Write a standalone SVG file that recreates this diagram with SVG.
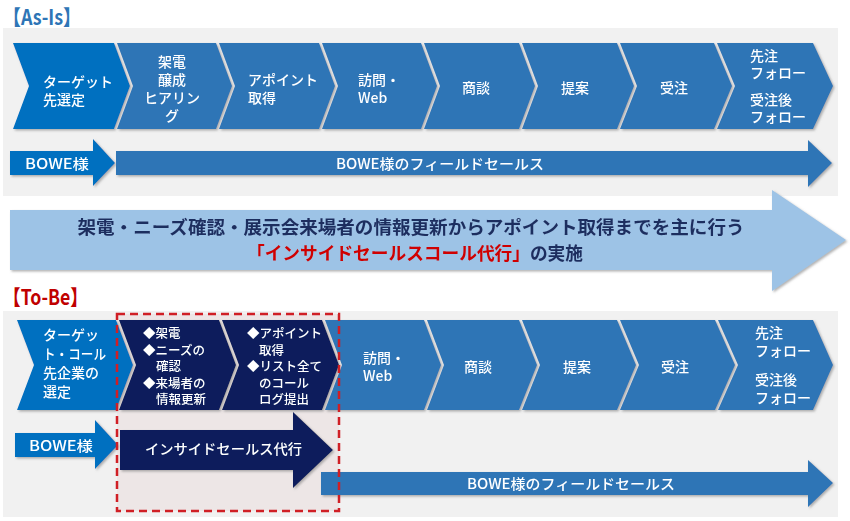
<svg xmlns="http://www.w3.org/2000/svg" width="850" height="521" viewBox="0 0 850 521">
<defs>
<filter id="sh" x="-5%" y="-5%" width="115%" height="120%">
<feDropShadow dx="1.5" dy="1.5" stdDeviation="1.2" flood-color="#7f7f7f" flood-opacity="0.6"/>
</filter>
<style>
.t{font-family:"Noto Sans CJK JP","Noto Sans",sans-serif;fill:#fff;font-size:14px;font-weight:500}
.s{font-size:12.5px}
.m{text-anchor:middle}
.blue{fill:#2E75B6}
.bright{fill:#0070C0}
.navy{fill:#0B1F5C}
.panel{fill:#F1F1F1}
.ttl{font-family:"Noto Sans CJK JP","Noto Sans",sans-serif;font-size:21px;font-weight:700}
.big{font-family:"Noto Sans CJK JP","Noto Sans",sans-serif;font-size:18px;font-weight:700;fill:#1F2D5E}
</style>
</defs>
<rect width="850" height="521" fill="#fff"/>

<text class="ttl" x="3" y="25" fill="#2E75B6" textLength="78" lengthAdjust="spacingAndGlyphs">【As-Is】</text>
<rect class="panel" x="3" y="28" width="835" height="168"/>

<g id="asis-chevrons" filter="url(#sh)">
<g id="a1"><polygon class="bright" points="13,43 114,43 130,86 114,129 13,129 29,86"/>
<text class="t" x="43" y="87">ターゲット</text><text class="t" x="43" y="105">先選定</text></g>
<g id="a2"><polygon class="blue" points="117,43 216,43 232,86 216,129 117,129 133,86"/>
<text class="t m" x="172" y="67">架電</text><text class="t m" x="172" y="85">醸成</text><text class="t m" x="172" y="103">ヒアリン</text><text class="t m" x="172" y="121">グ</text></g>
<g id="a3"><polygon class="blue" points="219,43 319,43 335,86 319,129 219,129 235,86"/>
<text class="t" x="248" y="85">アポイント</text><text class="t" x="248" y="103">取得</text></g>
<g id="a4"><polygon class="blue" points="322,43 421,43 437,86 421,129 322,129 338,86"/>
<text class="t" x="358" y="85">訪問・</text><text class="t" x="358" y="103" font-size="15">Web</text></g>
<g id="a5"><polygon class="blue" points="424,43 519,43 535,86 519,129 424,129 440,86"/>
<text class="t m" x="476" y="93">商談</text></g>
<g id="a6"><polygon class="blue" points="522,43 617,43 634,86 617,129 522,129 538,86"/>
<text class="t m" x="575" y="93">提案</text></g>
<g id="a7"><polygon class="blue" points="620,43 714,43 732,86 714,129 620,129 637,86"/>
<text class="t m" x="674" y="93">受注</text></g>
<g id="a8"><polygon class="blue" points="717,43 813,43 833,86 813,129 717,129 735,86"/>
<text class="t" x="750" y="61">先注</text><text class="t" x="750" y="78">フォロー</text><text class="t" x="750" y="105">受注後</text><text class="t" x="750" y="122">フォロー</text></g>
</g>

<g id="connectors" filter="url(#sh)">
<g id="asis-bowe"><polygon class="bright" points="10,151 93,151 93,139 115,163 93,186 93,175 10,175"/>
<text class="t" x="25" y="169" textLength="64" lengthAdjust="spacingAndGlyphs">BOWE様</text></g>
<g id="asis-field"><polygon class="blue" points="116,151 808,151 808,140 832,163 808,187 808,175 116,175"/>
<text class="t" x="336" y="169" textLength="208" lengthAdjust="spacingAndGlyphs">BOWE様のフィールドセールス</text></g>

<g id="main-arrow"><polygon fill="#9DC3E6" points="10,210 772,210 772,190 846,240 772,291 772,270 10,270"/>
<text class="big" x="411" y="234" text-anchor="middle" textLength="667" lengthAdjust="spacingAndGlyphs">架電・ニーズ確認・展示会来場者の情報更新からアポイント取得までを主に行う</text>
<text class="big" x="415" y="260" text-anchor="middle" textLength="336" lengthAdjust="spacingAndGlyphs"><tspan fill="#D00000">「インサイドセールスコール代行」</tspan>の実施</text></g>
</g>

<text class="ttl" x="3" y="305" fill="#C00000" textLength="85" lengthAdjust="spacingAndGlyphs">【To-Be】</text>
<rect class="panel" x="3" y="311" width="835" height="206"/>
<rect id="focus-fill" x="117" y="314" width="222" height="197" fill="#EDE6E6"/>

<g id="tobe-chevrons" filter="url(#sh)">
<g id="b1"><polygon class="bright" points="17,320 116,320 133,365 116,410 17,410 34,365"/>
<text class="t" x="43" y="340">ターゲッ</text><text class="t" x="43" y="359" textLength="63" lengthAdjust="spacingAndGlyphs">ト・コール</text><text class="t" x="43" y="378">先企業の</text><text class="t" x="43" y="397">選定</text></g>
<g id="b2"><polygon class="navy" points="119,320 219,320 236,365 219,410 119,410 136,365"/>
<text class="t s" x="143" y="338">◆架電</text><text class="t s" x="143" y="355">◆ニーズの</text><text class="t s" x="156" y="371">確認</text><text class="t s" x="143" y="388">◆来場者の</text><text class="t s" x="156" y="404">情報更新</text></g>
<g id="b3"><polygon class="navy" points="222,320 322,320 339,365 322,410 222,410 239,365"/>
<text class="t s" x="247" y="338">◆アポイント</text><text class="t s" x="259" y="355">取得</text><text class="t s" x="247" y="371">◆リスト全て</text><text class="t s" x="259" y="388">のコール</text><text class="t s" x="259" y="404">ログ提出</text></g>
<g id="b4"><polygon class="blue" points="325,320 424,320 441,365 424,410 325,410 342,365"/>
<text class="t" x="363" y="363">訪問・</text><text class="t" x="363" y="381" font-size="15">Web</text></g>
<g id="b5"><polygon class="blue" points="427,320 519,320 537,365 519,410 427,410 444,365"/>
<text class="t m" x="478" y="372">商談</text></g>
<g id="b6"><polygon class="blue" points="522,320 617,320 636,365 617,410 522,410 540,365"/>
<text class="t m" x="577" y="372">提案</text></g>
<g id="b7"><polygon class="blue" points="620,320 715,320 735,365 715,410 620,410 639,365"/>
<text class="t m" x="675" y="372">受注</text></g>
<g id="b8"><polygon class="blue" points="718,320 813,320 833,365 813,410 718,410 738,365"/>
<text class="t" x="755" y="338">先注</text><text class="t" x="755" y="356">フォロー</text><text class="t" x="755" y="385">受注後</text><text class="t" x="755" y="403">フォロー</text></g>
</g>

<g id="tobe-arrows" filter="url(#sh)">
<g id="tobe-bowe"><polygon class="bright" points="15,433 95,433 95,420 118,445 95,469 95,457 15,457"/>
<text class="t" x="29" y="451" textLength="64" lengthAdjust="spacingAndGlyphs">BOWE様</text></g>
<g id="tobe-inside"><polygon class="navy" points="120,430 293,430 293,412 333,450 293,488 293,470 120,470"/>
<text class="t" x="145" y="454" textLength="157" lengthAdjust="spacingAndGlyphs">インサイドセールス代行</text></g>
<g id="tobe-field"><polygon class="blue" points="321,472 808,472 808,460 833,483 808,507 808,495 321,495"/>
<text class="t" x="467" y="489" textLength="208" lengthAdjust="spacingAndGlyphs">BOWE様のフィールドセールス</text></g>
</g>

<rect id="focus" x="117" y="314" width="222" height="197" fill="none" stroke="#D01F25" stroke-width="2.5" stroke-dasharray="8,5"/>
</svg>
